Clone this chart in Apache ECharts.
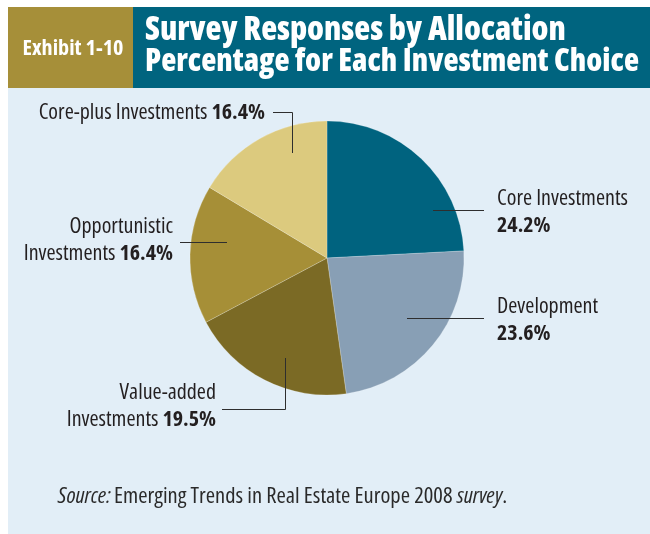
<!DOCTYPE html>
<html>
<head>
<meta charset="utf-8">
<script src="https://cdn.jsdelivr.net/npm/echarts@6/dist/echarts.min.js"></script>
<style>
html,body{margin:0;padding:0;background:#fff;}
#c{width:650px;height:534px;}
</style>
</head>
<body>
<div id="c"></div>
<script>
const categories = ['Core Investments', 'Development', 'Value-added Investments', 'Opportunistic Investments', 'Core-plus Investments'];
const values = [24.2, 23.6, 19.5, 16.4, 16.4];
const colors = ['#00637F', '#889FB5', '#7B6A25', '#A68F37', '#DCCA7E'];
const labelTexts = [
  '{n|Core Investments}\n{p|VAL}',
  '{n|Development}\n{p|VAL}',
  '{n|Value-added}\n{n|Investments }{p|VAL}',
  '{n|Opportunistic}\n{n|Investments }{p|VAL}',
  '{n|Core-plus Investments }{p|VAL}'
];
const titleLines = ['Survey Responses by Allocation', 'Percentage for Each Investment Choice'];
const exhibitText = 'Exhibit 1-10';

const FAM = "'Open Sans'";
const CX = 327, CY = 258, R = 137;

// fit a font size so that text spans a target width
const mctx = document.createElement('canvas').getContext('2d');
function fit(text, prefix, target) {
  mctx.font = prefix + ' 100px ' + FAM;
  return 100 * target / mctx.measureText(text).width;
}
const exSize = fit(exhibitText, 'bold condensed', 101);
const t1Size = fit(titleLines[0], '800 condensed', 421);
const t2Size = fit(titleLines[1], '800 condensed', 494);
const srcPlain = 'Emerging Trends in Real Estate Europe 2008 ';
mctx.font = 'italic condensed 100px ' + FAM;
let wi = mctx.measureText('Source: survey').width;
mctx.font = 'condensed 100px ' + FAM;
let wn = mctx.measureText(srcPlain + '.').width;
const srcSize = 100 * 450 / (wi + wn);

// label anchor and leader line layout (annotation placement)
const labelLayouts = [
  {x: 497, y: 212, align: 'left',  pts: [[433, 210.5], [484, 210.5]]},
  {x: 497, y: 320, align: 'left',  pts: [[407, 318.5], [484, 318.5]]},
  {x: 216, y: 406, align: 'right', pts: [[285.5, 358], [285.5, 409.5], [222, 409.5]]},
  {x: 173, y: 240, align: 'right', pts: [[227, 242.5], [180, 242.5]]},
  {x: 265, y: 113, align: 'right', pts: [[292.5, 153], [292.5, 112.5], [273, 112.5]]}
];

const chart = echarts.init(document.getElementById('c'), null, {renderer: 'canvas'});

const leaderLines = labelLayouts.map(L => ({
  type: 'polyline', z: 100, silent: true,
  shape: {points: L.pts},
  style: {stroke: '#2E2E2E', lineWidth: 1, fill: null}
}));

const option = {
  backgroundColor: '#ffffff',
  animation: false,
  graphic: [
    {type: 'rect', z: 0, shape: {x: 8, y: 88, width: 642, height: 446}, style: {fill: '#E2EEF7'}},
    {type: 'rect', z: 0, shape: {x: 8, y: 7, width: 125, height: 81}, style: {fill: '#A68F39'}},
    {type: 'rect', z: 0, shape: {x: 133, y: 7, width: 517, height: 81}, style: {fill: '#00647F'}},
    {type: 'text', z: 1, x: 73, y: 49, style: {text: exhibitText, fill: '#fff', font: 'bold condensed ' + exSize.toFixed(2) + 'px ' + FAM, textAlign: 'center', textVerticalAlign: 'middle'}},
    {type: 'text', z: 1, x: 145, y: 31, style: {text: titleLines[0], fill: '#fff', font: '800 condensed ' + t1Size.toFixed(2) + 'px ' + FAM, textAlign: 'left', textVerticalAlign: 'middle'}},
    {type: 'text', z: 1, x: 145, y: 62, style: {text: titleLines[1], fill: '#fff', font: '800 condensed ' + t2Size.toFixed(2) + 'px ' + FAM, textAlign: 'left', textVerticalAlign: 'middle'}},
    {type: 'text', z: 1, x: 58, y: 497, style: {
      text: '{i|Source:} {n|' + srcPlain + '}{i|survey}{n|.}',
      textVerticalAlign: 'middle',
      rich: {
        i: {fontFamily: FAM, fontSize: srcSize, fontStyle: 'italic', fontWeight: 'condensed', fill: '#2A2A2A'},
        n: {fontFamily: FAM, fontSize: srcSize, fontWeight: 'condensed', fill: '#2A2A2A'}
      }
    }}
  ].concat(leaderLines),
  series: [{
    type: 'pie',
    center: [CX, CY],
    radius: R,
    startAngle: 90,
    clockwise: true,
    z: 5,
    data: categories.map((c, i) => ({name: c, value: values[i], itemStyle: {color: colors[i]}})),
    itemStyle: {borderColor: 'rgba(255,255,255,0.35)', borderWidth: 0.6},
    emphasis: {disabled: true},
    label: {
      show: true,
      overflow: 'none',
      formatter: p => labelTexts[p.dataIndex].replace('VAL', p.value.toFixed(1) + '%'),
      lineHeight: 27,
      rich: {
        n: {fontFamily: FAM, fontSize: 22, fontWeight: 'condensed', color: '#231F20', lineHeight: 27},
        p: {fontFamily: FAM, fontSize: 22, fontWeight: 'bold condensed', color: '#231F20', lineHeight: 27}
      }
    },
    labelLine: {show: false},
    labelLayout: function (p) {
      const L = labelLayouts[p.dataIndex];
      return {x: L.x, y: L.y, align: L.align, verticalAlign: 'middle'};
    }
  }]
};
chart.setOption(option);
</script>
</body>
</html>
